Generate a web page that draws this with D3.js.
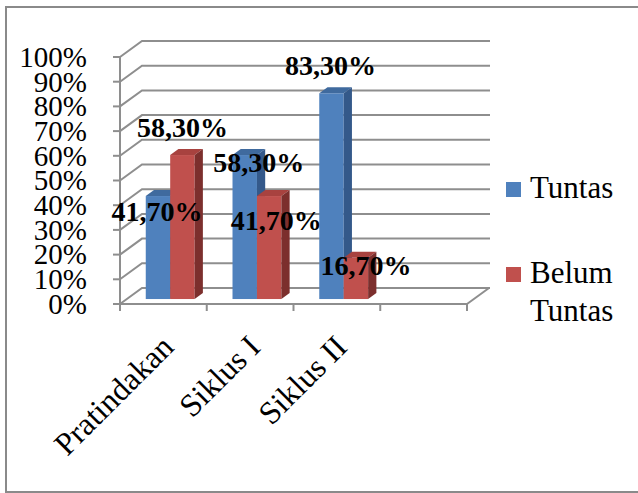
<!DOCTYPE html>
<html>
<head>
<meta charset="utf-8">
<script src="https://cdn.jsdelivr.net/npm/d3@7"></script>
<style>
  html, body { margin: 0; padding: 0; background: #fff; }
  svg { display: block; }
</style>
</head>
<body>
<svg id="chart" width="638" height="493" font-family="'Liberation Serif', 'Times New Roman', Times, serif"></svg>
<script>
// Persentase ketuntasan belajar per tahap
const categories = ["Pratindakan", "Siklus I", "Siklus II"];
const seriesNames = ["Tuntas", "Belum Tuntas"];
const tuntas = [0.417, 0.583, 0.833];
const belumTuntas = [0.583, 0.417, 0.167];
const valueLabels = [["41,70%", "58,30%", "83,30%"], ["58,30%", "41,70%", "16,70%"]];
const yTicks = [0, 0.1, 0.2, 0.3, 0.4, 0.5, 0.6, 0.7, 0.8, 0.9, 1.0];
const slotCount = 4; // the category axis reserves one empty slot on the right

// label nudges (px) relative to the default spot above each bar
const labelNudge = [
  [[-1, 43], [14, 35], [-1, 0]],
  [[0, 0], [7, 52], [10, 35]]
];

const FONT = "'Liberation Serif', 'Times New Roman', Times, serif";

const colors = {
  front: ["#4F81BD", "#C0504D"],
  top: ["#3F6A9E", "#A8423F"],
  side: ["#34598A", "#7C2F2D"]
};
const gridColor = "#8E8E8E";

const svg = d3.select("#chart");

// outer chart frame
svg.append("rect")
  .attr("x", 6).attr("y", 7).attr("width", 650).attr("height", 485)
  .attr("fill", "none").attr("stroke", "#8A8A8A").attr("stroke-width", 2);

// front-plane scales
const x = d3.scaleBand().domain(d3.range(slotCount)).range([120, 467]);
const y = d3.scaleLinear().domain([0, 1]).range([304, 57]);
// depth vector of the 3D box
const DX = 22, DY = -16;
const backRight = 490;
const barFront = 0.31, barDepth = 0.375;

const g = svg.append("g");

// walls: left-wall diagonals and back-wall gridlines
yTicks.forEach(t => {
  const y0 = y(t);
  g.append("polyline")
    .attr("points", [[x.range()[0], y0], [x.range()[0] + DX, y0 + DY], [backRight, y0 + DY]].map(p => p.join(",")).join(" "))
    .attr("fill", "none").attr("stroke", gridColor).attr("stroke-width", 2);
});

// floor front edge and right edge
g.append("line")
  .attr("x1", x.range()[0]).attr("x2", x.range()[1])
  .attr("y1", y(0)).attr("y2", y(0))
  .attr("stroke", gridColor).attr("stroke-width", 2);
g.append("line")
  .attr("x1", x.range()[1]).attr("y1", y(0))
  .attr("x2", x.range()[1] + DX).attr("y2", y(0) + DY)
  .attr("stroke", gridColor).attr("stroke-width", 2);

// value axis
g.append("line")
  .attr("x1", x.range()[0]).attr("x2", x.range()[0])
  .attr("y1", y(1)).attr("y2", y(0))
  .attr("stroke", gridColor).attr("stroke-width", 2);
yTicks.forEach(t => {
  g.append("line")
    .attr("x1", x.range()[0] - 7).attr("x2", x.range()[0])
    .attr("y1", y(t)).attr("y2", y(t))
    .attr("stroke", gridColor).attr("stroke-width", 2);
  g.append("text")
    .attr("x", 87).attr("y", y(t)).attr("dy", "0.34em")
    .attr("text-anchor", "end")
    .attr("font-family", FONT)
    .attr("font-size", 29)
    .text(d3.format(".0%")(t));
});

// category tick marks at slot boundaries
d3.range(slotCount + 1).forEach(i => {
  const xx = x.range()[0] + i * x.step();
  g.append("line")
    .attr("x1", xx).attr("x2", xx)
    .attr("y1", y(0)).attr("y2", y(0) + 7)
    .attr("stroke", gridColor).attr("stroke-width", 2);
});

// bars
const barW = x.bandwidth() / 3.55;
const xs = d3.scaleBand().domain(d3.range(seriesNames.length)).range([-barW, barW]);
const seriesValues = [tuntas, belumTuntas];
const offX = DX * barFront, offY = DY * barFront;
const dX = DX * barDepth, dY = DY * barDepth;

categories.forEach((cat, ci) => {
  const cx = x(ci) + x.bandwidth() / 2;
  seriesValues.forEach((vals, si) => {
    const v = vals[ci];
    const x0 = cx + xs(si) + offX, x1 = x0 + xs.bandwidth();
    const yb = y(0) + offY, yt = y(v) + offY;
    // front face
    g.append("rect")
      .attr("x", x0).attr("y", yt).attr("width", x1 - x0).attr("height", yb - yt)
      .attr("fill", colors.front[si]);
    // top face
    g.append("polygon")
      .attr("points", [[x0, yt], [x1, yt], [x1 + dX, yt + dY], [x0 + dX, yt + dY]].map(p => p.join(",")).join(" "))
      .attr("fill", colors.top[si]);
    // side face
    g.append("polygon")
      .attr("points", [[x1, yt], [x1 + dX, yt + dY], [x1 + dX, yb + dY], [x1, yb]].map(p => p.join(",")).join(" "))
      .attr("fill", colors.side[si]);
  });
});

// value labels
categories.forEach((cat, ci) => {
  const cx = x(ci) + x.bandwidth() / 2;
  seriesValues.forEach((vals, si) => {
    const v = vals[ci];
    const bx = cx + xs(si) + offX + xs.bandwidth() / 2;
    const [nx, ny] = labelNudge[si][ci];
    g.append("text")
      .attr("x", bx + nx).attr("y", y(v) + offY - 18 + ny)
      .attr("text-anchor", "middle")
      .attr("font-family", FONT)
      .attr("font-size", 28).attr("font-weight", "bold")
      .text(valueLabels[si][ci]);
  });
});

// category labels, rotated
categories.forEach((cat, ci) => {
  const cx = x(ci) + x.bandwidth() / 2 + 4;
  const cy = 341;
  g.append("text")
    .attr("transform", `translate(${cx},${cy}) rotate(-45)`)
    .attr("text-anchor", "end")
    .attr("dy", "0.35em")
    .attr("font-family", FONT)
    .attr("font-size", 32)
    .text(cat);
});

// legend
const legend = svg.append("g");
const legendRows = [
  { y: 182, lines: ["Tuntas"] },
  { y: 267, lines: ["Belum", "Tuntas"] }
];
legendRows.forEach((row, i) => {
  legend.append("rect")
    .attr("x", 506).attr("y", row.y).attr("width", 15).attr("height", 15)
    .attr("fill", colors.front[i]);
  row.lines.forEach((ln, j) => {
    legend.append("text")
      .attr("x", 530).attr("y", row.y + 16 + j * 38)
      .attr("font-family", FONT)
      .attr("font-size", 31)
      .text(ln);
  });
});
</script>
</body>
</html>
